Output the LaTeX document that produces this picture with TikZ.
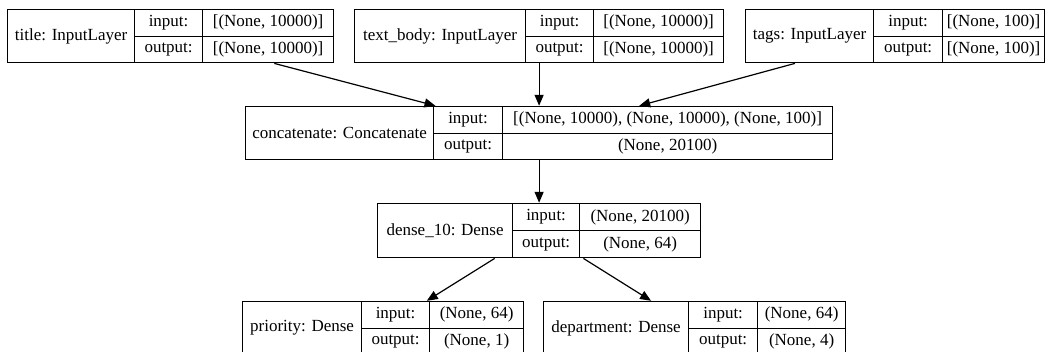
\documentclass[tikz,border=0pt]{standalone}
\usepackage{fontspec}
\setmainfont{Liberation Serif}
\usetikzlibrary{arrows.meta, fit}

\begin{document}
\begin{tikzpicture}[
    x=1pt, y=-1pt,
    every node/.style={font=\fontsize{17}{20}\selectfont},
    cell/.style 2 args={draw, line width=1.2pt, inner sep=0pt, anchor=north west,
                        minimum width=#1, minimum height=#2},
    layer/.style={inner sep=0pt, fit=#1},
    >={Triangle[length=11pt, width=9pt]},
  ]
  \useasboundingbox (0,0) rectangle (1051,351);

  % input layers
  \node[cell={127pt}{53pt}]   (title-n)  at (7,9)      {title: InputLayer};
  \node[cell={68pt}{26.5pt}]  (title-ik) at (134,9)    {input:};
  \node[cell={68pt}{26.5pt}]  (title-ok) at (134,35.5) {output:};
  \node[cell={131pt}{26.5pt}] (title-iv) at (202,9)    {[(None, 10000)]};
  \node[cell={131pt}{26.5pt}] (title-ov) at (202,35.5) {[(None, 10000)]};
  \node[layer=(title-n)(title-ov)] (title) {};

  \node[cell={171pt}{53pt}]   (body-n)  at (354,9)    {text\_body: InputLayer};
  \node[cell={68pt}{26.5pt}]  (body-ik) at (525,9)    {input:};
  \node[cell={68pt}{26.5pt}]  (body-ok) at (525,35.5) {output:};
  \node[cell={130pt}{26.5pt}] (body-iv) at (593,9)    {[(None, 10000)]};
  \node[cell={130pt}{26.5pt}] (body-ov) at (593,35.5) {[(None, 10000)]};
  \node[layer=(body-n)(body-ov)] (body) {};

  \node[cell={128pt}{53pt}]   (tags-n)  at (745,9)    {tags: InputLayer};
  \node[cell={69pt}{26.5pt}]  (tags-ik) at (873,9)    {input:};
  \node[cell={69pt}{26.5pt}]  (tags-ok) at (873,35.5) {output:};
  \node[cell={102pt}{26.5pt}] (tags-iv) at (942,9)    {[(None, 100)]};
  \node[cell={102pt}{26.5pt}] (tags-ov) at (942,35.5) {[(None, 100)]};
  \node[layer=(tags-n)(tags-ov)] (tags) {};

  % concatenate
  \node[cell={188pt}{53pt}]   (cat-n)  at (245,106)   {concatenate: Concatenate};
  \node[cell={69pt}{26.5pt}]  (cat-ik) at (433,106)   {input:};
  \node[cell={69pt}{26.5pt}]  (cat-ok) at (433,132.5) {output:};
  \node[cell={330pt}{26.5pt}] (cat-iv) at (502,106)   {[(None, 10000), (None, 10000), (None, 100)]};
  \node[cell={330pt}{26.5pt}] (cat-ov) at (502,132.5) {(None, 20100)};
  \node[layer=(cat-n)(cat-ov)] (cat) {};

  % dense
  \node[cell={135pt}{54pt}]   (dense-n)  at (377,203) {dense\_10: Dense};
  \node[cell={67pt}{27pt}]    (dense-ik) at (512,203) {input:};
  \node[cell={67pt}{27pt}]    (dense-ok) at (512,230) {output:};
  \node[cell={121pt}{27pt}]   (dense-iv) at (579,203) {(None, 20100)};
  \node[cell={121pt}{27pt}]   (dense-ov) at (579,230) {(None, 64)};
  \node[layer=(dense-n)(dense-ov)] (dense) {};

  % outputs
  \node[cell={119pt}{53pt}]   (prio-n)  at (242,301)   {priority: Dense};
  \node[cell={68pt}{26.5pt}]  (prio-ik) at (361,301)   {input:};
  \node[cell={68pt}{26.5pt}]  (prio-ok) at (361,327.5) {output:};
  \node[cell={94pt}{26.5pt}]  (prio-iv) at (429,301)   {(None, 64)};
  \node[cell={94pt}{26.5pt}]  (prio-ov) at (429,327.5) {(None, 1)};
  \node[layer=(prio-n)(prio-ov)] (prio) {};

  \node[cell={145pt}{53pt}]   (dept-n)  at (543,301)   {department: Dense};
  \node[cell={69pt}{26.5pt}]  (dept-ik) at (688,301)   {input:};
  \node[cell={69pt}{26.5pt}]  (dept-ok) at (688,327.5) {output:};
  \node[cell={88pt}{26.5pt}]  (dept-iv) at (757,301)   {(None, 64)};
  \node[cell={88pt}{26.5pt}]  (dept-ov) at (757,327.5) {(None, 4)};
  \node[layer=(dept-n)(dept-ov)] (dept) {};

  \draw[->, line width=1.2pt] (title) -- (cat);
  \draw[->, line width=1.2pt] (body) -- (cat);
  \draw[->, line width=1.2pt] (tags) -- (cat);
  \draw[->, line width=1.2pt] (cat) -- (dense);
  \draw[->, line width=1.2pt] (dense) -- (prio);
  \draw[->, line width=1.2pt] (dense) -- (dept);
\end{tikzpicture}
\end{document}
